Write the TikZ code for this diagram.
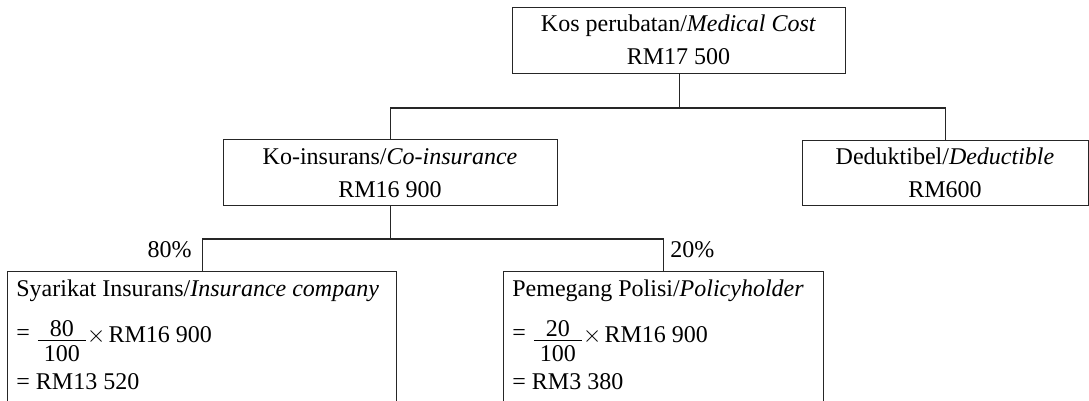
\documentclass[tikz,border=0pt]{standalone}
\usepackage{fontspec}
\setmainfont{Liberation Serif}
\newsavebox\frbox
\newlength\frw
\newcommand\frc[2]{%
  \sbox\frbox{#2}%
  \setlength\frw{\dimexpr\wd\frbox+6pt\relax}%
  \hbox to \frw{%
    \rlap{\raisebox{3pt}{\makebox[\frw]{#1}}}%
    \rlap{\raisebox{0.8pt}{\rule{\frw}{0.6pt}}}%
    \raisebox{-9.5pt}{\makebox[\frw]{#2}}}}
\newcommand\frrow[2]{\raisebox{1pt}{=} \kern1pt\frc{#1}{#2}\kern0.5pt$\times$\kern1.5pt RM16 900}
\tikzset{
  box/.style={draw=black!85, line width=0.6pt, rectangle, inner sep=0pt, anchor=north west},
  txt/.style={inner sep=0pt, anchor=base, font=\fontsize{12}{16.5}\selectfont},
  ltxt/.style={txt, anchor=base west},
  conn/.style={draw=black!85, line width=0.6pt},
}
\begin{document}
\begin{tikzpicture}[x=0.5pt,y=-0.5pt]
\useasboundingbox (0,0) rectangle (1089,401);
\clip (0,0) rectangle (1089,401);
% boxes
\node[box, minimum width=166.5pt, minimum height=33pt] (top) at (512,7) {};
\node[box, minimum width=167pt, minimum height=33pt] (co) at (223,139) {};
\node[box, minimum width=143pt, minimum height=32.5pt] (ded) at (802,140) {};
\node[box, minimum width=194.5pt, minimum height=80pt] (ins) at (7,271) {};
\node[box, minimum width=160pt, minimum height=80pt] (pol) at (503,271) {};
% texts
\node[txt] (t1) at (678.5,32) {Kos perubatan/\textit{Medical Cost}};
\node[txt] (t2) at (678.5,65) {RM17 500};
\node[txt] (c1) at (390,165) {Ko-insurans/\textit{Co-insurance}};
\node[txt] (c2) at (390,198) {RM16 900};
\node[txt] (d1) at (945,165) {Deduktibel/\textit{Deductible}};
\node[txt] (d2) at (945,198) {RM600};
\node[ltxt] (i1) at (16,297) {Syarikat Insurans/\textit{Insurance company}};
\node[ltxt] (i2) at (16,343) {\frrow{80}{100}};
\node[ltxt] (i3) at (16,390) {= RM13 520};
\node[ltxt] (p1) at (512,297) {Pemegang Polisi/\textit{Policyholder}};
\node[ltxt] (p2) at (512,343) {\frrow{20}{100}};
\node[ltxt] (p3) at (512,390) {= RM3 380};
% percent labels
\node[txt, anchor=base east] (l80) at (192,258) {80\%};
\node[ltxt] (l20) at (670,258) {20\%};
% connectors
\coordinate (h1) at (0,108);
\coordinate (h2) at (0,239);
\draw[conn] (top.south) -- (top.south |- h1);
\draw[conn] (co.north) -- (co.north |- h1) -- (ded.north |- h1) -- (ded.north);
\draw[conn] (co.south) -- (co.south |- h2);
\draw[conn] (ins.north) -- (ins.north |- h2) -- (pol.north |- h2) -- (pol.north);
\end{tikzpicture}
\end{document}
